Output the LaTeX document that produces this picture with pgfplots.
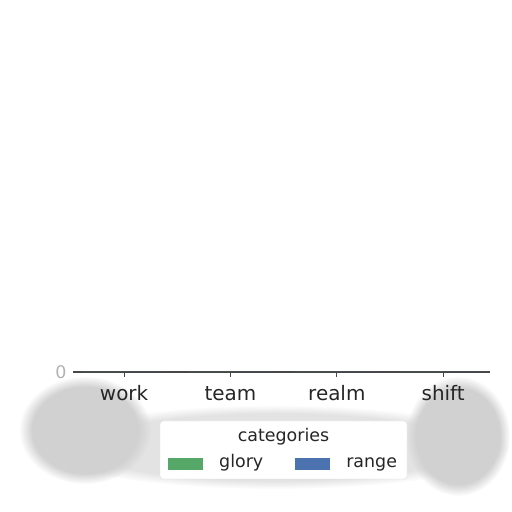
\documentclass[border=0pt]{standalone}
\usepackage{fontspec}
\setmainfont{DejaVu Sans}
\usepackage{pgfplots}
\pgfplotsset{compat=1.18}
\usetikzlibrary{fadings}
\definecolor{glory}{HTML}{55A868}
\definecolor{range}{HTML}{4C72B0}
\definecolor{ink}{HTML}{262626}
\begin{document}
\begin{tikzpicture}[x=1bp,y=1bp]
\useasboundingbox (0,0) rectangle (512,512);
% soft grey smear under the axis
\fill[gray!22, path fading=circle with fuzzy edge 20 percent] (275,65) ellipse [x radius=235, y radius=42];
\fill[gray!36, path fading=circle with fuzzy edge 20 percent] (85,82) ellipse [x radius=66, y radius=54];
\fill[gray!36, path fading=circle with fuzzy edge 20 percent] (458,76) ellipse [x radius=52, y radius=60];
% legend frame
\fill[white, draw=gray!25, rounded corners=3bp] (160,33) rectangle (407,91);
\node[text=ink, font=\fontsize{17.5}{20}\selectfont] at (283.5,75) {categories};
\begin{axis}[
    at={(73bp,140bp)}, anchor=south west,
    scale only axis,
    width=417bp, height=1bp,
    xmin=-0.48, xmax=3.44,
    ymin=0, ymax=1,
    axis lines*=left,
    y axis line style={draw=none},
    xtick=data,
    xticklabels={work,team,realm,shift},
    ytick={0},
    y tick style={draw=none},
    yticklabel style={text=gray!60, font=\fontsize{17.5}{20}\selectfont, xshift=2bp},
    tick align=outside,
    major tick length=5bp,
    x tick style={draw=ink!85, line width=0.8bp},
    x axis line style={draw=ink!85, line width=1.2bp, -},
    xticklabel style={text=ink, font=\fontsize{20}{24}\selectfont,
      text height=1.5ex, text depth=0.3ex, yshift=-12bp},
    /pgf/number format/assume math mode=true,
    ybar=0pt, bar width=0.4,
    legend columns=2,
    legend style={at={(rel axis cs:0.505,0)}, anchor=north, yshift=-83bp,
      draw=none, fill=none, font=\fontsize{17.5}{20}\selectfont, text=ink,
      nodes={text height=1.5ex, text depth=0.3ex},
      /tikz/every odd column/.append style={column sep=14bp},
      /tikz/every even column/.append style={column sep=30bp}},
    legend image code/.code={\fill[#1] (0bp,-6bp) rectangle (35bp,6bp);},
  ]
\addplot[fill=glory, draw=none] coordinates {(0,0) (1,0) (2,0) (3,0)};
\addplot[fill=range, draw=none] coordinates {(0,0) (1,0) (2,0) (3,0)};
\legend{glory,range}
\end{axis}
\end{tikzpicture}
\end{document}
